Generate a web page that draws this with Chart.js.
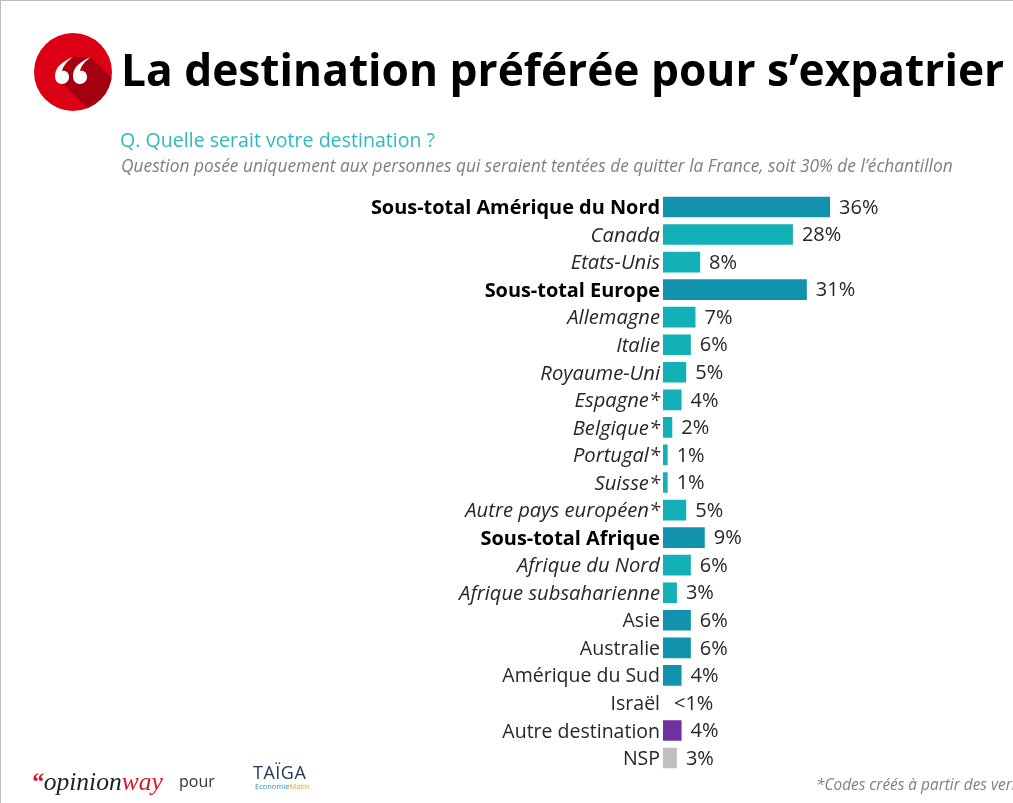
<!DOCTYPE html>
<html lang="fr">
<head>
<meta charset="utf-8">
<title>La destination préférée pour s'expatrier</title>
<script src="https://cdn.jsdelivr.net/npm/chart.js@4/dist/chart.umd.min.js"></script>
<style>
    html, body { margin: 0; padding: 0; background: #fff; overflow: hidden; }
    #page { position: relative; width: 1013px; height: 803px; overflow: hidden; font-family: "Open Sans", sans-serif; }
    #page .frame { position: absolute; left: 0; top: 0; right: 0; bottom: 0; border-top: 1px solid #bdbdbd; border-left: 1px solid #bdbdbd; pointer-events: none; }
    #chart { position: absolute; left: 0; top: 0; }
    .txt { position: absolute; white-space: nowrap; }
    #titre { left: 121px; top: 38px; font-size: 44.25px; line-height: 62px; font-weight: 700; color: #000; }
    #question { left: 120px; top: 127px; font-size: 19.6px; line-height: 26px; color: #2eb8c4; }
    #precision { left: 121px; top: 153px; font-size: 17.35px; line-height: 24px; font-style: italic; color: #7f7f7f; }
    #note { left: 816px; top: 774px; font-size: 15.4px; line-height: 22px; font-style: italic; color: #7f7f7f; }
    #pour { left: 179px; top: 770px; font-size: 16px; line-height: 22px; color: #333; }
    #logoOw { left: 31px; top: 766px; font-family: "Liberation Serif", serif; font-style: italic; font-size: 25.5px; line-height: 32px; color: #222; }
    #logoOw b { color: #d9182d; font-weight: 700; }
    #logoOw span { color: #d9182d; }
    #taiga { left: 253px; top: 762px; font-size: 18px; line-height: 20px; color: #2a3560; letter-spacing: 0.5px; }
    #eco { left: 255px; top: 781px; font-size: 7.5px; line-height: 10px; color: #3b8ac9; }
    #eco span { color: #e9a33c; }
    #icone { position: absolute; left: 34px; top: 33px; }
</style>
</head>
<body>
<div id="page">
    <canvas id="chart" width="1013" height="803"></canvas>
    <svg id="icone" width="78" height="78" viewBox="0 0 78 78">
        <defs><clipPath id="rond"><circle cx="39" cy="39" r="39"/></clipPath></defs>
        <circle cx="39" cy="39" r="39" fill="#dc0014"/>
        <polygon clip-path="url(#rond)" points="28,50 22,44 39,24 57,24 90,57 68,90" fill="#a5000f"/>
        <path d="M39,24 C29,28 21,34 21,43 C21,48 24,51 28,51 C32,51 35,48 35,44 C35,40 32,37 28,38 C29,33 33,28 39,24 Z" fill="#fff"/>
        <path d="M57,24 C47,28 39,34 39,43 C39,48 42,51 46,51 C50,51 53,48 53,44 C53,40 50,37 46,38 C47,33 51,28 57,24 Z" fill="#fff"/>
    </svg>
    <div class="txt" id="titre">La destination préférée pour s’expatrier</div>
    <div class="txt" id="question">Q. Quelle serait votre destination ?</div>
    <div class="txt" id="precision">Question posée uniquement aux personnes qui seraient tentées de quitter la France, soit 30% de l’échantillon</div>
    <div class="txt" id="logoOw"><b>“</b>opinion<span>way</span></div>
    <div class="txt" id="pour">pour</div>
    <div class="txt" id="taiga">TAÏGA</div>
    <div class="txt" id="eco">Economie<span>Matin</span></div>
    <div class="txt" id="note">*Codes créés à partir des verbatims</div>
    <div class="frame"></div>
</div>
<script>
const categories = [
    'Sous-total Amérique du Nord', 'Canada', 'Etats-Unis',
    'Sous-total Europe', 'Allemagne', 'Italie', 'Royaume-Uni', 'Espagne*',
    'Belgique*', 'Portugal*', 'Suisse*', 'Autre pays européen*',
    'Sous-total Afrique', 'Afrique du Nord', 'Afrique subsaharienne',
    'Asie', 'Australie', 'Amérique du Sud', 'Israël', 'Autre destination', 'NSP'
];
const values = [36, 28, 8, 31, 7, 6, 5, 4, 2, 1, 1, 5, 9, 6, 3, 6, 6, 4, 0, 4, 3];
const valueLabels = [
    '36%', '28%', '8%', '31%', '7%', '6%', '5%', '4%', '2%', '1%', '1%', '5%',
    '9%', '6%', '3%', '6%', '6%', '4%', '<1%', '4%', '3%'
];
const subtotals = ['Sous-total Amérique du Nord', 'Sous-total Europe', 'Sous-total Afrique'];
const details = [
    'Canada', 'Etats-Unis', 'Allemagne', 'Italie', 'Royaume-Uni', 'Espagne*', 'Belgique*',
    'Portugal*', 'Suisse*', 'Autre pays européen*', 'Afrique du Nord', 'Afrique subsaharienne'
];

const FONT = '"Open Sans", sans-serif';
const COLOR_MAIN = '#1392ae';
const COLOR_DETAIL = '#13b0b7';

function barColor(label) {
    if (details.includes(label)) return COLOR_DETAIL;
    if (label === 'Autre destination') return '#7030a0';
    if (label === 'NSP') return '#bfbfbf';
    return COLOR_MAIN;
}

// pourcentages a droite des barres
const valueLabelPlugin = {
    id: 'valueLabelPlugin',
    afterDatasetsDraw(chart) {
        const ctx = chart.ctx;
        const meta = chart.getDatasetMeta(0);
        ctx.save();
        ctx.font = '20px ' + FONT;
        ctx.fillStyle = '#262626';
        ctx.textAlign = 'left';
        ctx.textBaseline = 'middle';
        meta.data.forEach((bar, i) => {
            const offset = values[i] === 0 ? 11 : 9;
            ctx.fillText(valueLabels[i], bar.x + offset, bar.y + 1);
        });
        ctx.restore();
    }
};

new Chart(document.getElementById('chart').getContext('2d'), {
    type: 'bar',
    data: {
        labels: categories,
        datasets: [{
            data: values,
            backgroundColor: categories.map(barColor),
            categoryPercentage: 0.75,
            barPercentage: 1
        }]
    },
    plugins: [valueLabelPlugin],
    options: {
        indexAxis: 'y',
        responsive: false,
        animation: false,
        events: [],
        layout: {
            padding: { top: 193.2, bottom: 31.2, left: 0, right: 71.6 }
        },
        plugins: {
            legend: { display: false },
            title: { display: false },
            tooltip: { enabled: false }
        },
        scales: {
            x: {
                display: false,
                min: 0,
                max: 60
            },
            y: {
                afterFit: scale => { scale.width = 663; },
                grid: { display: false, drawTicks: false },
                border: { display: false },
                ticks: {
                    autoSkip: false,
                    padding: 3,
                    labelOffset: 1.5,
                    color: ctx => subtotals.includes(categories[ctx.index]) ? '#000' : '#262626',
                    font: ctx => {
                        const label = categories[ctx.index];
                        if (subtotals.includes(label)) return { family: FONT, size: 19.9, weight: '700' };
                        if (details.includes(label)) return { family: FONT, size: 20.2, style: 'italic' };
                        return { family: FONT, size: 19.5 };
                    }
                }
            }
        }
    }
});
</script>
</body>
</html>
